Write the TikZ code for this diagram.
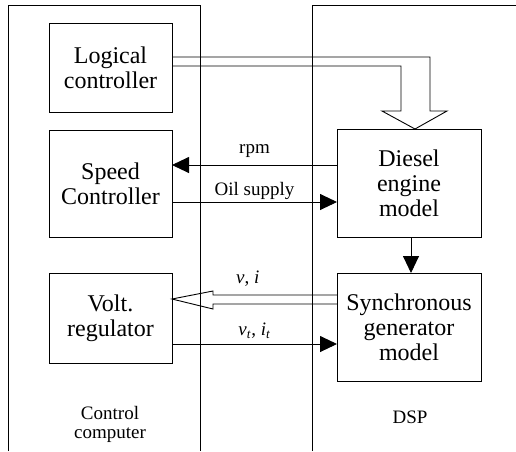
\documentclass[tikz,border=0pt]{standalone}
\usepackage{fontspec}
\setmainfont{Liberation Serif}
\usetikzlibrary{arrows.meta}
\tikzset{
  block/.style={draw, inner sep=0pt, outer sep=0pt, align=center, font=\fontsize{24}{25}\selectfont},
  lbl/.style={inner sep=0pt, font=\fontsize{19}{19}\selectfont},
  sig/.style={-{Triangle[length=17pt,width=16pt]}}
}
\begin{document}
\begin{tikzpicture}[x=1pt,y=-1pt,line width=0.9pt]
\useasboundingbox (0,0) rectangle (516,451);
% the two machines
\draw (8,451) -- (8,5) -- (200,5) -- (200,451);
\draw (312,451) -- (312,5) -- (516,5);
\node[lbl,align=center] (ctrlname) at (110,424) {Control\\computer};
\node[lbl] (dspname) at (410,417.5) {DSP};
% blocks
\node[block,minimum width=123pt,minimum height=89pt] (logic) at (110.5,67.5) {Logical\\controller};
\node[block,minimum width=123pt,minimum height=107pt] (speed) at (110.5,183.5) {Speed\\Controller};
\node[block,minimum width=123pt,minimum height=90pt] (voltreg) at (110.5,318) {Volt.\\regulator};
\node[block,minimum width=144pt,minimum height=108pt] (diesel) at (409,183) {Diesel\\engine\\model};
\node[block,minimum width=144pt,minimum height=108pt] (syncgen) at (409,327) {Synchronous\\generator\\model};
% wide arrows
\draw[line join=miter] ([yshift=10.5pt]logic.east) -- (430,57) -- (430,111) -- (447,111)
  -- ([xshift=6pt]diesel.north) -- (382,111) -- (401,111) -- (401,66) -- ([yshift=1.5pt]logic.east);
\draw[line join=miter] ([yshift=32pt]syncgen.west) -- node[lbl,pos=0.72,above=8pt] {\textit{v}, \textit{i}} (213,295)
  -- (213,291) -- ([yshift=19pt]voltreg.east) -- (213,309) -- (213,304) -- ([yshift=23pt]syncgen.west);
% signals
\draw[sig] ([yshift=18pt]diesel.west) coordinate (rpmA) -- (rpmA -| speed.east) node[lbl,midway,above=7pt] {rpm};
\draw[sig] ([yshift=-18.5pt]speed.east) coordinate (oilA) -- (oilA -| diesel.west) node[lbl,midway,above=2pt] {Oil supply};
\draw[sig] ([xshift=2pt]diesel.south) -- ([xshift=2pt]syncgen.north);
\draw[sig] ([yshift=-26pt]voltreg.east) coordinate (vtA) -- (vtA -| syncgen.west)
  node[lbl,midway,above=5pt] {\textit{v}\textsubscript{\textit{t}}, \textit{i}\textsubscript{\textit{t}}};
\end{tikzpicture}
\end{document}
